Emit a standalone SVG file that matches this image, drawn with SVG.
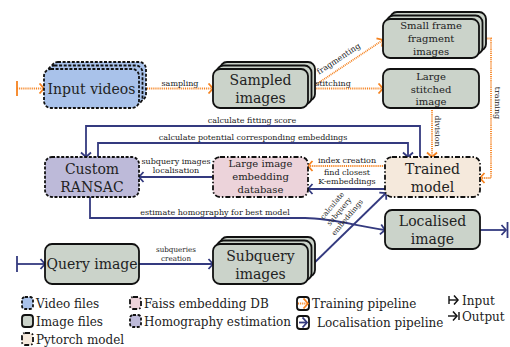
<svg xmlns="http://www.w3.org/2000/svg" width="510" height="347" viewBox="0 0 510 347" font-family="'DejaVu Serif', 'Liberation Serif', serif">
<defs>
<style>
text{font-family:'DejaVu Serif','Liberation Serif',serif;fill:#222;}
.big{font-size:14px;text-anchor:middle;}
.mid{font-size:10px;text-anchor:middle;}
.lbl{font-size:8px;text-anchor:middle;}
.sm{font-size:7.2px;text-anchor:middle;}
.leg{font-size:12px;}
.vid{fill:#a9c2ea;stroke:#111;stroke-width:1.8;stroke-dasharray:3 1.6;}
.img{fill:#cbd3ca;stroke:#111;stroke-width:1.8;}
.pt{fill:#f5e9dc;stroke:#111;stroke-width:1.8;stroke-dasharray:5 2 1.5 2;}
.fa{fill:#ecd3da;stroke:#111;stroke-width:1.8;stroke-dasharray:5 2 1.5 2;}
.ho{fill:#bdbad9;stroke:#111;stroke-width:1.8;stroke-dasharray:3 1.6;}
.or{fill:none;stroke:#f5821f;stroke-width:1.8;stroke-dasharray:1 0.9;}
.orS{fill:none;stroke:#f5821f;stroke-width:1.8;}
.nv{fill:none;stroke:#343a7f;stroke-width:1.8;}
</style>
<marker id="ao" viewBox="-6 -6 8 12" markerWidth="8" markerHeight="12" refX="0" refY="0" orient="auto" markerUnits="userSpaceOnUse"><path d="M-4.5,-5 L0,0 L-4.5,5" fill="none" stroke="#f5821f" stroke-width="1.8"/></marker>
<marker id="an" viewBox="-6 -6 8 12" markerWidth="8" markerHeight="12" refX="0" refY="0" orient="auto" markerUnits="userSpaceOnUse"><path d="M-4.5,-5 L0,0 L-4.5,5" fill="none" stroke="#343a7f" stroke-width="1.8"/></marker>
<marker id="ak" viewBox="-6 -6 8 12" markerWidth="8" markerHeight="12" refX="0" refY="0" orient="auto" markerUnits="userSpaceOnUse"><path d="M-4,-4.5 L0,0 L-4,4.5" fill="none" stroke="#111" stroke-width="1.5"/></marker>
</defs>
<rect width="510" height="347" fill="#fff"/>

<g id="connectors">
<line class="orS" x1="17" y1="81" x2="17" y2="96"/>
<line class="or" x1="17" y1="88.5" x2="44" y2="88.5" marker-end="url(#ao)"/>
<line class="or" x1="147" y1="88.5" x2="213" y2="88.5" marker-end="url(#ao)"/>
<text class="lbl" x="180" y="85.5">sampling</text>
<line class="or" x1="310" y1="88.5" x2="383" y2="40" marker-end="url(#ao)"/>
<text class="lbl" transform="translate(340,61) rotate(-33.5)">fragmenting</text>
<line class="or" x1="310" y1="88.5" x2="383" y2="88.5" marker-end="url(#ao)"/>
<text class="lbl" x="333" y="85.5">stitching</text>
<polyline class="or" points="479,38.5 491,38.5 491,178 480,178" marker-end="url(#ao)"/>
<text class="lbl" transform="translate(494.5,103) rotate(90)">training</text>
<line class="or" x1="432" y1="108" x2="432" y2="157" marker-end="url(#ao)"/>
<text class="lbl" transform="translate(435,131) rotate(90)">division</text>
<line class="or" x1="385" y1="166" x2="308" y2="166" marker-end="url(#ao)"/>
<text class="lbl" x="347" y="163">index creation</text>
<line class="nv" x1="385" y1="189" x2="308" y2="189" marker-end="url(#an)"/>
<text class="lbl" x="347" y="175">find closest</text>
<text class="lbl" x="347" y="184">K-embeddings</text>
<line class="nv" x1="213" y1="177" x2="139" y2="177" marker-end="url(#an)"/>
<text class="lbl" x="176" y="164">subquery images</text>
<text class="lbl" x="176" y="172.5">localisation</text>
<polyline class="nv" points="420,157 420,126 86,126 86,157" marker-end="url(#an)"/>
<text class="lbl" x="252" y="123">calculate fitting score</text>
<polyline class="nv" points="98,157 98,143 408,143 408,157" marker-end="url(#an)"/>
<text class="lbl" x="253" y="140">calculate potential corresponding embeddings</text>
<path class="nv" d="M90,197 V218 H305 C332,218 356,226 385,230" marker-end="url(#an)"/>
<text class="lbl" x="215" y="214.5">estimate homography for best model</text>
<line class="nv" x1="310" y1="267" x2="386" y2="193" marker-end="url(#an)"/>
<text class="sm" transform="translate(334,207) rotate(-50)">calculate</text>
<text class="sm" transform="translate(341,213) rotate(-50)">subquery</text>
<text class="sm" transform="translate(349,219) rotate(-50)">embeddings</text>
<line class="nv" x1="480" y1="230" x2="506" y2="230" marker-end="url(#an)"/>
<line class="nv" x1="507.5" y1="222" x2="507.5" y2="238"/>
<line class="nv" x1="17" y1="256" x2="17" y2="272"/>
<line class="nv" x1="17" y1="264" x2="45" y2="264" marker-end="url(#an)"/>
<line class="nv" x1="139" y1="264" x2="213" y2="264" marker-end="url(#an)"/>
<text class="sm" x="176" y="252">subqueries</text>
<text class="sm" x="176" y="260.5">creation</text>
</g>

<g id="input-videos">
<rect class="vid" x="51" y="62" width="95" height="39" rx="7"/>
<rect class="vid" x="47.5" y="65.5" width="95" height="39" rx="7"/>
<rect class="vid" x="44" y="69" width="95" height="39" rx="7"/>
<text class="big" x="91.5" y="93.5">Input videos</text>
</g>
<g id="sampled-images">
<rect class="img" x="220" y="62" width="95" height="39" rx="7"/>
<rect class="img" x="216.5" y="65.5" width="95" height="39" rx="7"/>
<rect class="img" x="213" y="69" width="95" height="39" rx="7"/>
<text class="big" x="260.5" y="85">Sampled</text>
<text class="big" x="260.5" y="103">images</text>
</g>
<g id="small-frame">
<rect class="img" x="390" y="12" width="96" height="39" rx="7"/>
<rect class="img" x="386.5" y="15.5" width="96" height="39" rx="7"/>
<rect class="img" x="383" y="19" width="96" height="39" rx="7"/>
<text class="mid" x="431" y="29">Small frame</text>
<text class="mid" x="431" y="42">fragment</text>
<text class="mid" x="431" y="55">images</text>
</g>
<g id="large-stitched">
<rect class="img" x="383" y="69" width="96" height="39" rx="7"/>
<text class="mid" x="431" y="80">Large</text>
<text class="mid" x="431" y="92.5">stitched</text>
<text class="mid" x="431" y="105">image</text>
</g>
<g id="trained-model">
<rect class="pt" x="385" y="157" width="95" height="40" rx="7"/>
<text class="big" x="432.5" y="173.5">Trained</text>
<text class="big" x="432.5" y="191.5">model</text>
</g>
<g id="embedding-db">
<rect class="fa" x="213" y="157" width="95" height="40" rx="7"/>
<text class="mid" x="260.5" y="167">Large image</text>
<text class="mid" x="260.5" y="180">embedding</text>
<text class="mid" x="260.5" y="193">database</text>
</g>
<g id="custom-ransac">
<rect class="ho" x="45" y="157" width="94" height="40" rx="7"/>
<text class="big" x="92" y="173.5">Custom</text>
<text class="big" x="92" y="191.5">RANSAC</text>
</g>
<g id="localised-image">
<rect class="img" x="385" y="210" width="95" height="39" rx="7"/>
<text class="big" x="432.5" y="225.5">Localised</text>
<text class="big" x="432.5" y="243.5">image</text>
</g>
<g id="query-image">
<rect class="img" x="45" y="244" width="94" height="40" rx="7"/>
<text class="big" x="92" y="269">Query image</text>
</g>
<g id="subquery-images">
<rect class="img" x="220" y="237" width="95" height="40" rx="7"/>
<rect class="img" x="216.5" y="240.5" width="95" height="40" rx="7"/>
<rect class="img" x="213" y="244" width="95" height="40" rx="7"/>
<text class="big" x="260.5" y="260.5">Subquery</text>
<text class="big" x="260.5" y="278.5">images</text>
</g>

<g id="legend">
<rect class="vid" x="22" y="297" width="11" height="12" rx="3"/>
<text class="leg" x="36" y="307.5">Video files</text>
<rect class="img" x="22" y="315" width="11" height="12" rx="3"/>
<text class="leg" x="36" y="325.5">Image files</text>
<rect class="pt" x="22" y="333" width="11" height="12" rx="3"/>
<text class="leg" x="36" y="343.5">Pytorch model</text>
<rect class="fa" x="130" y="297" width="11" height="12" rx="3"/>
<text class="leg" x="144" y="307.5">Faiss embedding DB</text>
<rect class="ho" x="130" y="315" width="11" height="12" rx="3"/>
<text class="leg" x="144" y="325.5">Homography estimation</text>
<rect x="297" y="297" width="12" height="13" rx="3" fill="#fff" stroke="#111" stroke-width="1.8"/>
<line class="or" x1="298" y1="303.5" x2="308" y2="303.5" marker-end="url(#ao)"/>
<text class="leg" x="312" y="308">Training pipeline</text>
<rect x="297" y="316" width="12" height="13" rx="3" fill="#fff" stroke="#111" stroke-width="1.8"/>
<line class="nv" x1="299" y1="322.5" x2="307" y2="322.5" marker-end="url(#an)"/>
<text class="leg" x="317" y="327">Localisation pipeline</text>
<line x1="449" y1="296" x2="449" y2="304" stroke="#111" stroke-width="1.4"/>
<line x1="449" y1="300" x2="458" y2="300" stroke="#111" stroke-width="1.4" marker-end="url(#ak)"/>
<text class="leg" x="462" y="304.5">Input</text>
<line x1="448" y1="316" x2="457" y2="316" stroke="#111" stroke-width="1.4" marker-end="url(#ak)"/>
<line x1="459" y1="312" x2="459" y2="320" stroke="#111" stroke-width="1.4"/>
<text class="leg" x="462" y="320.5">Output</text>
</g>
</svg>
